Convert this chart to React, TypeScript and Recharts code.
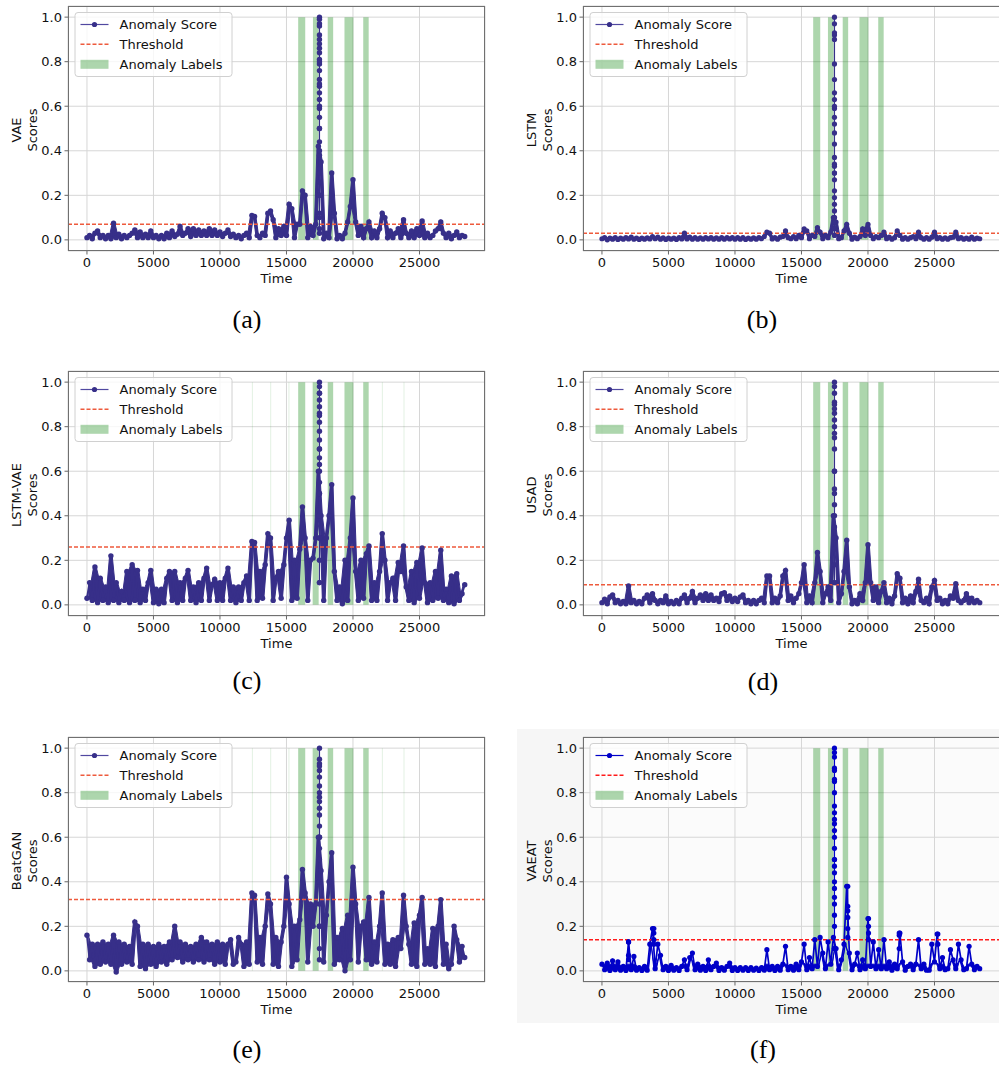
import React from 'react';
import {
  ComposedChart,
  Line,
  Area,
  XAxis,
  YAxis,
  CartesianGrid,
  ReferenceArea,
  ReferenceLine,
} from 'recharts';

// score samples every STEP time units (upper/lower edge of the dense trace)
const STEP = 200;
// the big spike around t≈17480 is drawn as its own column of dots
const SPIKE_T = 17480;

const xTicks = [0, 5000, 10000, 15000, 20000, 25000];
const yTicks = [0, 0.2, 0.4, 0.6, 0.8, 1.0];

// ground-truth anomaly segments (same in every panel)
const labelStart = [15880, 16990, 18100, 19360, 20770];
const labelEnd = [16410, 17420, 18510, 20030, 21180];
// very thin label segments that only show up faintly in (c) and (e)
const thinLabels = [12400, 13780, 15150, 16910, 22170, 23800];

const vaeScores = [
  0.01, 0.02, 0.005, 0.03, 0.04, 0.01, 0.02, 0.005, 0.02, 0.005,
  0.075, 0.01, 0.025, 0.005, 0.02, 0.01, 0.02, 0.03, 0.045, 0.01,
  0.035, 0.01, 0.025, 0.01, 0.04, 0.01, 0.02, 0.005, 0.02, 0.005,
  0.03, 0.01, 0.04, 0.015, 0.025, 0.06, 0.02, 0.03, 0.05, 0.015,
  0.05, 0.02, 0.045, 0.02, 0.04, 0.02, 0.05, 0.02, 0.045, 0.02,
  0.035, 0.015, 0.03, 0.045, 0.015, 0.025, 0.01, 0.02, 0.005, 0.02,
  0.03, 0.01, 0.11, 0.105, 0.02, 0.01, 0.03, 0.02, 0.12, 0.13,
  0.09, 0.01, 0.05, 0.02, 0.06, 0.02, 0.16, 0.14, 0.01, 0.07,
  0.07, 0.22, 0.2, 0.01, 0.06, 0.02, 0.07, 0.42, 0.35, 0.005,
  0.03, 0.01, 0.3, 0.12, 0.005, 0.02, 0.005, 0.03, 0.08, 0.15,
  0.27, 0.08, 0.02, 0.06, 0.01, 0.05, 0.08, 0.01, 0.04, 0.01,
  0.05, 0.12, 0.1, 0.01, 0.04, 0.01, 0.03, 0.05, 0.01, 0.09,
  0.03, 0.01, 0.04, 0.01, 0.05, 0.02, 0.085, 0.01, 0.03, 0.01,
  0.02, 0.04, 0.05, 0.08, 0.03, 0.01, 0.03, 0.005, 0.02, 0.035,
  0.01, 0.02, 0.015,
];
const vaeSpike = [
  0.05, 0.12, 0.2, 0.26, 0.32, 0.38, 0.44, 0.5, 0.55, 0.59, 0.63, 0.66, 0.69, 0.72, 0.76,
  0.79, 0.81, 0.84, 0.86, 0.88, 0.92, 0.96, 0.99, 1.0, 0.97, 0.9, 0.8, 0.7, 0.6, 0.5,
  0.4, 0.3, 0.2, 0.1, 0.03,
];

const lstmScores = [
  0.005, 0.01, 0.0, 0.008, 0.003, 0.01, 0.002, 0.008, 0.003, 0.01,
  0.004, 0.012, 0.003, 0.008, 0.002, 0.008, 0.003, 0.009, 0.004, 0.015,
  0.005, 0.012, 0.003, 0.009, 0.002, 0.008, 0.003, 0.008, 0.002, 0.01,
  0.004, 0.03, 0.004, 0.012, 0.003, 0.01, 0.003, 0.009, 0.003, 0.01,
  0.004, 0.01, 0.003, 0.009, 0.003, 0.01, 0.003, 0.01, 0.004, 0.01,
  0.003, 0.01, 0.003, 0.01, 0.002, 0.008, 0.003, 0.009, 0.003, 0.01,
  0.005, 0.015, 0.035, 0.03, 0.004, 0.01, 0.003, 0.012, 0.015, 0.04,
  0.01, 0.005, 0.015, 0.005, 0.02, 0.01, 0.05, 0.04, 0.005, 0.02,
  0.015, 0.055, 0.035, 0.005, 0.02, 0.01, 0.035, 0.1, 0.08, 0.005,
  0.01, 0.04, 0.07, 0.03, 0.003, 0.012, 0.005, 0.015, 0.05, 0.02,
  0.07, 0.02, 0.005, 0.015, 0.01, 0.02, 0.035, 0.005, 0.012, 0.003,
  0.01, 0.04, 0.02, 0.003, 0.01, 0.003, 0.01, 0.015, 0.005, 0.035,
  0.01, 0.003, 0.01, 0.003, 0.012, 0.035, 0.005, 0.01, 0.003, 0.009,
  0.003, 0.01, 0.012, 0.035, 0.005, 0.01, 0.003, 0.008, 0.003, 0.012,
  0.003, 0.008, 0.005,
];
const lstmSpike = [
  0.05, 0.08, 0.1, 0.13, 0.16, 0.19, 0.22, 0.27, 0.3, 0.33, 0.34, 0.37, 0.43, 0.48, 0.52,
  0.55, 0.59, 0.63, 0.66, 0.72, 0.79, 0.92, 0.93, 0.97, 1.0, 0.9, 0.6, 0.3, 0.1, 0.02,
];

const lstmVaeScores = [
  0.03, 0.1, 0.02, 0.17, 0.01, 0.12, 0.02, 0.08, 0.01, 0.22,
  0.02, 0.1, 0.01, 0.06, 0.02, 0.15, 0.01, 0.18, 0.02, 0.155,
  0.01, 0.07, 0.02, 0.1, 0.155, 0.01, 0.07, 0.005, 0.07, 0.01,
  0.12, 0.15, 0.02, 0.15, 0.01, 0.1, 0.02, 0.12, 0.155, 0.02,
  0.08, 0.01, 0.1, 0.02, 0.12, 0.165, 0.02, 0.09, 0.115, 0.02,
  0.1, 0.02, 0.12, 0.165, 0.02, 0.08, 0.01, 0.08, 0.02, 0.1,
  0.13, 0.02, 0.285, 0.28, 0.02, 0.15, 0.03, 0.18, 0.32, 0.3,
  0.02, 0.12, 0.15, 0.03, 0.18, 0.3, 0.38, 0.02, 0.2, 0.03,
  0.25, 0.44, 0.3, 0.02, 0.2, 0.21, 0.3, 0.6, 0.4, 0.02,
  0.3, 0.4, 0.54, 0.15, 0.02, 0.08, 0.005, 0.2, 0.02, 0.3,
  0.48, 0.15, 0.02, 0.2, 0.03, 0.23, 0.265, 0.02, 0.1, 0.02,
  0.15, 0.32, 0.2, 0.02, 0.1, 0.12, 0.02, 0.19, 0.15, 0.265,
  0.08, 0.02, 0.15, 0.01, 0.19, 0.03, 0.255, 0.1, 0.01, 0.1,
  0.02, 0.15, 0.03, 0.245, 0.02, 0.07, 0.01, 0.13, 0.005, 0.14,
  0.02, 0.05, 0.09,
];
const lstmVaeSpike = [
  0.1, 0.2, 0.3, 0.4, 0.5, 0.55, 0.6, 0.63, 0.66, 0.7, 0.74, 0.78, 0.82, 0.86, 0.89,
  0.92, 0.95, 0.98, 1.0, 0.95, 0.85, 0.7, 0.5, 0.3, 0.1,
];

const usadScores = [
  0.01, 0.025, 0.005, 0.035, 0.045, 0.01, 0.02, 0.005, 0.015, 0.005,
  0.085, 0.01, 0.02, 0.005, 0.015, 0.005, 0.03, 0.045, 0.01, 0.05,
  0.02, 0.005, 0.02, 0.01, 0.04, 0.005, 0.015, 0.005, 0.02, 0.005,
  0.03, 0.045, 0.01, 0.03, 0.06, 0.01, 0.03, 0.045, 0.02, 0.05,
  0.02, 0.045, 0.02, 0.03, 0.015, 0.05, 0.055, 0.02, 0.04, 0.015,
  0.03, 0.015, 0.035, 0.045, 0.01, 0.02, 0.005, 0.02, 0.005, 0.02,
  0.03, 0.01, 0.13, 0.13, 0.01, 0.03, 0.01, 0.04, 0.13, 0.155,
  0.02, 0.04, 0.01, 0.03, 0.05, 0.1, 0.18, 0.01, 0.04, 0.01,
  0.1, 0.235, 0.15, 0.01, 0.05, 0.08, 0.02, 0.4, 0.3, 0.01,
  0.05, 0.15, 0.29, 0.08, 0.005, 0.02, 0.005, 0.05, 0.02, 0.1,
  0.27, 0.1, 0.02, 0.08, 0.01, 0.06, 0.1, 0.01, 0.03, 0.005,
  0.04, 0.14, 0.12, 0.01, 0.03, 0.005, 0.04, 0.01, 0.06, 0.115,
  0.02, 0.01, 0.03, 0.005, 0.08, 0.11, 0.02, 0.03, 0.005, 0.02,
  0.005, 0.04, 0.03, 0.095, 0.02, 0.01, 0.02, 0.05, 0.01, 0.03,
  0.01, 0.02, 0.01,
];
const usadSpike = [
  0.1, 0.18, 0.25, 0.3, 0.35, 0.4, 0.45, 0.5, 0.52, 0.6, 0.7, 0.75, 0.77, 0.8, 0.83,
  0.86, 0.88, 0.91, 0.95, 0.98, 1.0, 0.9, 0.6, 0.3, 0.1,
];

const beatGanScores = [
  0.16, 0.05, 0.12, 0.02, 0.12, 0.03, 0.13, 0.04, 0.12, 0.03,
  0.16, -0.005, 0.13, 0.03, 0.12, 0.04, 0.11, 0.03, 0.22, 0.2,
  0.02, 0.12, 0.01, 0.12, 0.03, 0.11, 0.02, 0.12, 0.04, 0.11,
  0.03, 0.13, 0.05, 0.2, 0.06, 0.13, 0.04, 0.12, 0.05, 0.11,
  0.04, 0.12, 0.05, 0.15, 0.04, 0.13, 0.05, 0.12, 0.03, 0.13,
  0.04, 0.12, 0.03, 0.12, 0.14, 0.03, 0.04, 0.15, 0.12, 0.02,
  0.13, 0.03, 0.35, 0.34, 0.04, 0.15, 0.03, 0.2, 0.345, 0.3,
  0.03, 0.15, 0.02, 0.13, 0.2, 0.42, 0.3, 0.02, 0.2, 0.05,
  0.23, 0.455, 0.35, 0.04, 0.3, 0.2, 0.3, 0.6, 0.45, 0.04,
  0.25, 0.4, 0.53, 0.03, 0.15, 0.05, 0.19, 0.0, 0.25, 0.05,
  0.465, 0.3, 0.04, 0.2, 0.22, 0.05, 0.33, 0.03, 0.13, 0.04,
  0.2, 0.35, 0.03, 0.12, 0.03, 0.14, 0.02, 0.15, 0.1, 0.34,
  0.2, 0.12, 0.03, 0.215, 0.02, 0.25, 0.33, 0.03, 0.1, 0.03,
  0.19, 0.02, 0.2, 0.32, 0.03, 0.12, 0.01, 0.03, 0.2, 0.14,
  0.04, 0.11, 0.06,
];
const beatGanSpike = [
  0.1, 0.2, 0.3, 0.4, 0.5, 0.55, 0.6, 0.65, 0.7, 0.73, 0.76, 0.78, 0.83, 0.87, 0.9,
  0.93, 0.95, 1.0, 0.92, 0.8, 0.6, 0.4, 0.2, 0.05,
];

const vaeatScores = [
  0.03, 0.005, 0.035, 0.002, 0.045, 0.005, 0.04, 0.003, 0.02, 0.002,
  0.13, 0.005, 0.065, 0.003, 0.015, 0.002, 0.02, 0.003, 0.12, 0.19,
  0.01, 0.12, 0.07, 0.005, 0.02, 0.002, 0.025, 0.003, 0.015, 0.002,
  0.02, 0.05, 0.005, 0.06, 0.08, 0.005, 0.03, 0.003, 0.02, 0.002,
  0.05, 0.005, 0.02, 0.035, 0.002, 0.015, 0.003, 0.02, 0.035, 0.002,
  0.015, 0.002, 0.015, 0.003, 0.015, 0.002, 0.015, 0.003, 0.012, 0.002,
  0.015, 0.003, 0.095, 0.005, 0.02, 0.002, 0.02, 0.003, 0.03, 0.11,
  0.005, 0.02, 0.003, 0.03, 0.005, 0.04, 0.12, 0.005, 0.06, 0.01,
  0.14, 0.02, 0.15, 0.08, 0.01, 0.13, 0.03, 0.15, 0.1, 0.005,
  0.05, 0.12, 0.38, 0.08, 0.005, 0.03, 0.08, 0.005, 0.05, 0.01,
  0.235, 0.02, 0.13, 0.01, 0.095, 0.01, 0.14, 0.01, 0.04, 0.003,
  0.03, 0.01, 0.17, 0.04, 0.003, 0.02, 0.03, 0.005, 0.03, 0.14,
  0.01, 0.03, 0.003, 0.003, 0.12, 0.04, 0.165, 0.01, 0.06, 0.005,
  0.01, 0.095, 0.05, 0.01, 0.12, 0.05, 0.005, 0.01, 0.11, 0.03,
  0.005, 0.02, 0.01,
];
const vaeatSpike = [
  0.1, 0.2, 0.25, 0.3, 0.33, 0.37, 0.4, 0.44, 0.47, 0.5, 0.55, 0.6, 0.63, 0.66, 0.68,
  0.71, 0.74, 0.8, 0.85, 0.86, 0.91, 0.96, 0.98, 1.0, 0.9, 0.5, 0.1,
];
// VAEAT's smaller peaks are thin stalks with several dots stacked on them
const vaeatStalkT = [2000, 3900, 18480, 20040, 22350, 25250];
const vaeatStalkV = [
  [0.05, 0.07, 0.13],
  [0.12, 0.14, 0.17, 0.19],
  [0.15, 0.19, 0.24, 0.27, 0.29, 0.38],
  [0.14, 0.17, 0.2, 0.235],
  [0.1, 0.16, 0.17],
  [0.12, 0.165],
];

const NAVY = '#372f89';
const NAVY_LINE = '#5048a0';
const BLUE = '#0000c8';
const THR = '#ee5a3c';
const RED = '#ff1a1a';
const GREEN = '#008000';
const FONT = 'DejaVu Sans, sans-serif';

const PLOT_W = 417;
const PLOT_H = 245;
const Y_AXIS_W = 68;
const X_AXIS_H = 44;
const TOP_PAD = 6;

// fillCap: how high the solid body of the trace is painted (VAEAT only has thin stalks above its base)
const panels = [
  { id: 'a', left: 68, top: 6, name: 'VAE', scores: vaeScores, spike: vaeSpike, stalkT: [], stalkV: [], thr: 0.07, color: NAVY, line: NAVY_LINE, thrColor: THR, thin: false, fillCap: 1, lw: 2, r: 2.7, capX: 247, capY: 328 },
  { id: 'b', left: 583, top: 6, name: 'LSTM', scores: lstmScores, spike: lstmSpike, stalkT: [], stalkV: [], thr: 0.03, color: NAVY, line: NAVY_LINE, thrColor: THR, thin: false, fillCap: 1, lw: 2, r: 2.6, capX: 762, capY: 328 },
  { id: 'c', left: 68, top: 371, name: 'LSTM-VAE', scores: lstmVaeScores, spike: lstmVaeSpike, stalkT: [], stalkV: [], thr: 0.26, color: NAVY, line: NAVY_LINE, thrColor: THR, thin: true, fillCap: 1, lw: 2, r: 2.7, capX: 247, capY: 689 },
  { id: 'd', left: 583, top: 371, name: 'USAD', scores: usadScores, spike: usadSpike, stalkT: [], stalkV: [], thr: 0.09, color: NAVY, line: NAVY_LINE, thrColor: THR, thin: false, fillCap: 1, lw: 2, r: 2.7, capX: 763, capY: 690 },
  { id: 'e', left: 68, top: 737, name: 'BeatGAN', scores: beatGanScores, spike: beatGanSpike, stalkT: [], stalkV: [], thr: 0.32, color: NAVY, line: NAVY_LINE, thrColor: THR, thin: true, fillCap: 1, lw: 2, r: 2.7, capX: 247, capY: 1058 },
  { id: 'f', left: 583, top: 737, name: 'VAEAT', scores: vaeatScores, spike: vaeatSpike, stalkT: vaeatStalkT, stalkV: vaeatStalkV, thr: 0.14, color: BLUE, line: BLUE, thrColor: RED, thin: false, fillCap: 0.03, lw: 1.7, r: 2.6, capX: 763, capY: 1058 },
];

function ScorePanel({ p }: { p: any }) {
  const data = p.scores.map((v: number, i: number) => ({ t: i * STEP, v }));
  const spikeData = p.spike.map((v: number) => ({ t: SPIKE_T, v }));
  // stacked dots on thin stalks; a null between stalks breaks the line
  const stalkData: any[] = [];
  p.stalkT.forEach((t: number, i: number) => {
    p.stalkV[i].forEach((v: number) => stalkData.push({ t, v }));
    stalkData.push({ t, v: null });
  });
  // body of the dense trace: span between each pair of neighbouring samples
  const bodyData = p.scores.slice(0, -1).map((v: number, i: number) => {
    const w = p.scores[i + 1];
    const lo = Math.min(v, w);
    return { t: i * STEP + STEP / 2, body: [lo, Math.max(lo, Math.min(Math.max(v, w), p.fillCap))] };
  });
  const tickStyle = { fontSize: 13, fill: '#111', fontFamily: FONT };
  const dot = { r: p.r, fill: p.color, stroke: p.color, strokeWidth: 0 };
  return (
    <div style={{ position: 'absolute', left: p.left - Y_AXIS_W, top: p.top - TOP_PAD }}>
      <ComposedChart
        width={Y_AXIS_W + PLOT_W + 6}
        height={TOP_PAD + PLOT_H + X_AXIS_H}
        margin={{ top: TOP_PAD, right: 6, bottom: 0, left: 0 }}
      >
        <CartesianGrid stroke="#d6d6d6" strokeWidth={1} />
        <XAxis
          type="number"
          dataKey="t"
          domain={[-1425, 29925]}
          ticks={xTicks}
          interval={0}
          allowDataOverflow
          axisLine={false}
          tickLine={{ stroke: '#666' }}
          tickSize={3.5}
          tickMargin={3}
          height={X_AXIS_H}
          tick={tickStyle}
        />
        <YAxis
          type="number"
          domain={[-0.05, 1.05]}
          ticks={yTicks}
          interval={0}
          allowDataOverflow
          axisLine={false}
          tickLine={{ stroke: '#666' }}
          tickSize={3.5}
          tickMargin={2.5}
          width={Y_AXIS_W}
          tick={tickStyle}
          tickFormatter={(v: number) => v.toFixed(1)}
        />
        {p.thin &&
          thinLabels.map((t) => (
            <ReferenceArea
              key={`thin-${t}`}
              x1={t}
              x2={t + 70}
              y1={0}
              y2={1}
              fill={GREEN}
              fillOpacity={0.12}
              stroke="none"
              ifOverflow="visible"
            />
          ))}
        {labelStart.map((s, i) => (
          <ReferenceArea
            key={`lab-${i}`}
            x1={s}
            x2={labelEnd[i]}
            y1={0}
            y2={1}
            fill={GREEN}
            fillOpacity={0.32}
            stroke="none"
            ifOverflow="visible"
          />
        ))}
        <Area
          data={bodyData}
          dataKey="body"
          type="linear"
          stroke={p.color}
          strokeWidth={1}
          fill={p.color}
          fillOpacity={1}
          dot={false}
          activeDot={false}
          isAnimationActive={false}
        />
        <Line
          data={data}
          dataKey="v"
          type="linear"
          stroke={p.color}
          strokeWidth={p.lw}
          dot={dot}
          activeDot={false}
          isAnimationActive={false}
        />
        <Line
          data={spikeData}
          dataKey="v"
          type="linear"
          stroke={p.color}
          strokeWidth={1.2}
          dot={dot}
          activeDot={false}
          isAnimationActive={false}
        />
        {stalkData.length > 0 && (
          <Line
            data={stalkData}
            dataKey="v"
            type="linear"
            stroke={p.color}
            strokeWidth={1.2}
            connectNulls={false}
            dot={dot}
            activeDot={false}
            isAnimationActive={false}
          />
        )}
        <ReferenceLine y={p.thr} stroke={p.thrColor} strokeWidth={1.5} strokeDasharray="4 2" ifOverflow="visible" />
      </ComposedChart>
    </div>
  );
}

function PanelDecor({ p }: { p: any }) {
  const L = p.left;
  const T = p.top;
  const midY = T + PLOT_H / 2 + 1.5;
  const bx = L + 7;
  const by = T + 6.5;
  return (
    <g fontFamily={FONT} fontSize={13} fill="#111">
      <rect x={L + 0.5} y={T + 0.5} width={PLOT_W - 1} height={PLOT_H - 1} fill="none" stroke="#707070" strokeWidth={1} />
      <text transform={`rotate(-90 ${L - 47.5} ${midY})`} x={L - 47.5} y={midY} textAnchor="middle">
        {p.name}
      </text>
      <text transform={`rotate(-90 ${L - 31.5} ${midY})`} x={L - 31.5} y={midY} textAnchor="middle">
        Scores
      </text>
      <text x={L + PLOT_W / 2} y={T + PLOT_H + 31.5} textAnchor="middle">
        Time
      </text>
      <rect x={bx} y={by} width={157} height={64} rx={3} fill="#fff" fillOpacity={0.8} stroke="#d0d0d0" strokeWidth={1} />
      <line x1={L + 12.5} x2={L + 40.5} y1={T + 18.5} y2={T + 18.5} stroke={p.line} strokeWidth={1.2} />
      <circle cx={L + 26.5} cy={T + 18.5} r={2.6} fill={p.color} />
      <text x={L + 51.5} y={T + 23}>Anomaly Score</text>
      <line x1={L + 12.5} x2={L + 40.5} y1={T + 38.3} y2={T + 38.3} stroke={p.thrColor} strokeWidth={1.5} strokeDasharray="4 2" />
      <text x={L + 51.5} y={T + 43}>Threshold</text>
      <rect x={L + 12.5} y={T + 53.8} width={28} height={9} fill={GREEN} fillOpacity={0.32} />
      <text x={L + 51.5} y={T + 63}>Anomaly Labels</text>
      <text x={p.capX} y={p.capY} textAnchor="middle" fontFamily="Liberation Serif, serif" fontSize={26} fill="#000">
        ({p.id})
      </text>
    </g>
  );
}

export default function App() {
  return (
    <div style={{ position: 'absolute', left: 0, top: 0, width: 999, height: 1066, background: '#fff', overflow: 'hidden' }}>
      {/* panel (f) sits on a light grey figure background */}
      <div style={{ position: 'absolute', left: 517, top: 729, width: 482, height: 294, background: '#f6f6f6' }} />
      <div style={{ position: 'absolute', left: 583, top: 737, width: PLOT_W, height: PLOT_H, background: '#fbfbfb' }} />
      {panels.map((p) => (
        <ScorePanel key={p.id} p={p} />
      ))}
      <svg width={999} height={1066} style={{ position: 'absolute', left: 0, top: 0, pointerEvents: 'none' }}>
        {panels.map((p) => (
          <PanelDecor key={p.id} p={p} />
        ))}
      </svg>
    </div>
  );
}
